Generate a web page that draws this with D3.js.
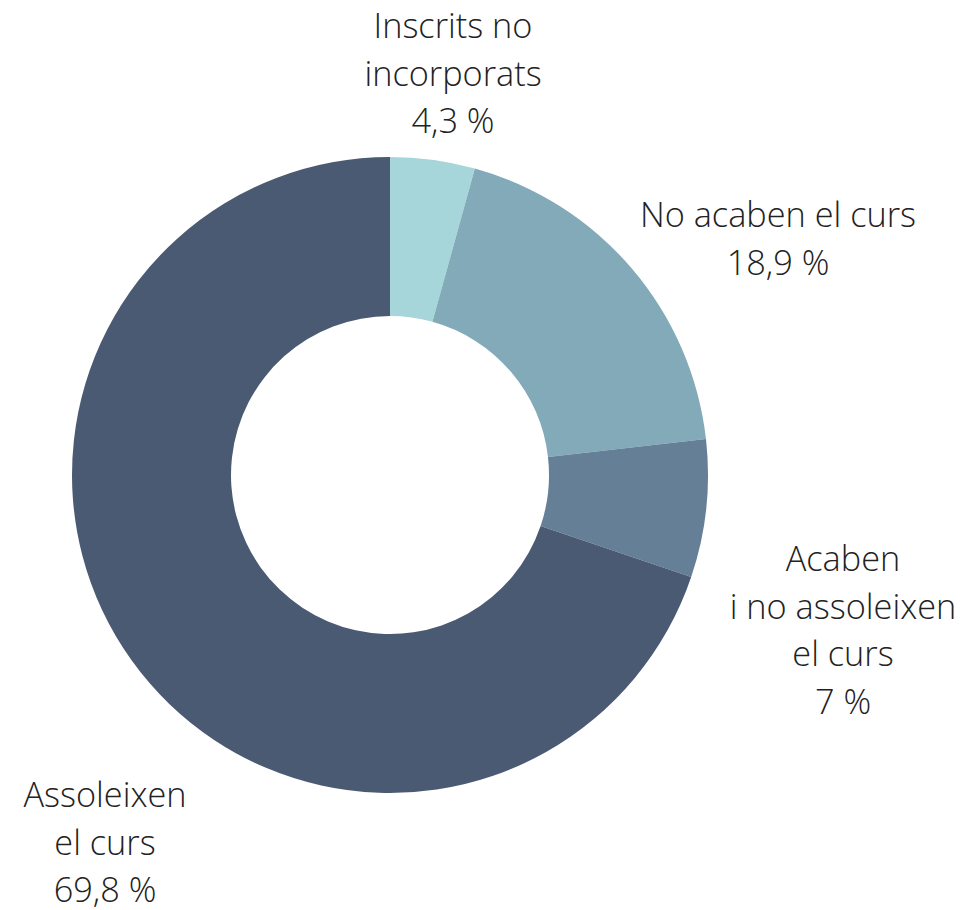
<!DOCTYPE html>
<html><head><meta charset="utf-8">
<script src="https://cdn.jsdelivr.net/npm/d3@7"></script>
<style>
html,body{margin:0;padding:0;background:#fff;}
text{font-family:"Open Sans",sans-serif;font-weight:300;fill:#222;}
</style></head>
<body><svg id="c" width="973" height="910"></svg>
<script>
const categories = [["Inscrits no","incorporats"],["No acaben el curs"],["Acaben","i no assoleixen","el curs"],["Assoleixen","el curs"]];
const values = [4.3, 18.9, 7, 69.8];
const valueLabels = ["4,3 %","18,9 %","7 %","69,8 %"];
const colors = ["#a6d5da","#82aab8","#657f96","#4b5a73"];

// layout: label block centre (x) and first baseline (y)
const labelLayout = [[453,38],[778,227],[843,571],[105,807]];

const svg = d3.select("#c");
const cx = 390, cy = 475, R = 318, r = 159;
const g = svg.append("g").attr("transform",`translate(${cx},${cy})`);
const pie = d3.pie().sort(null).value(d=>d);
const arc = d3.arc().innerRadius(r).outerRadius(R);
g.selectAll("path").data(pie(values)).join("path")
  .attr("d",arc).attr("fill",(d,i)=>colors[i]);

const lh = 47.6;
categories.forEach((lines,i)=>{
  const all = lines.concat([valueLabels[i]]);
  const t = svg.append("text").attr("text-anchor","middle").style("font-size","34.3px");
  all.forEach((s,j)=>{
    t.append("tspan").attr("x",labelLayout[i][0]).attr("y",labelLayout[i][1]+j*lh).text(s);
  });
});
</script></body></html>
